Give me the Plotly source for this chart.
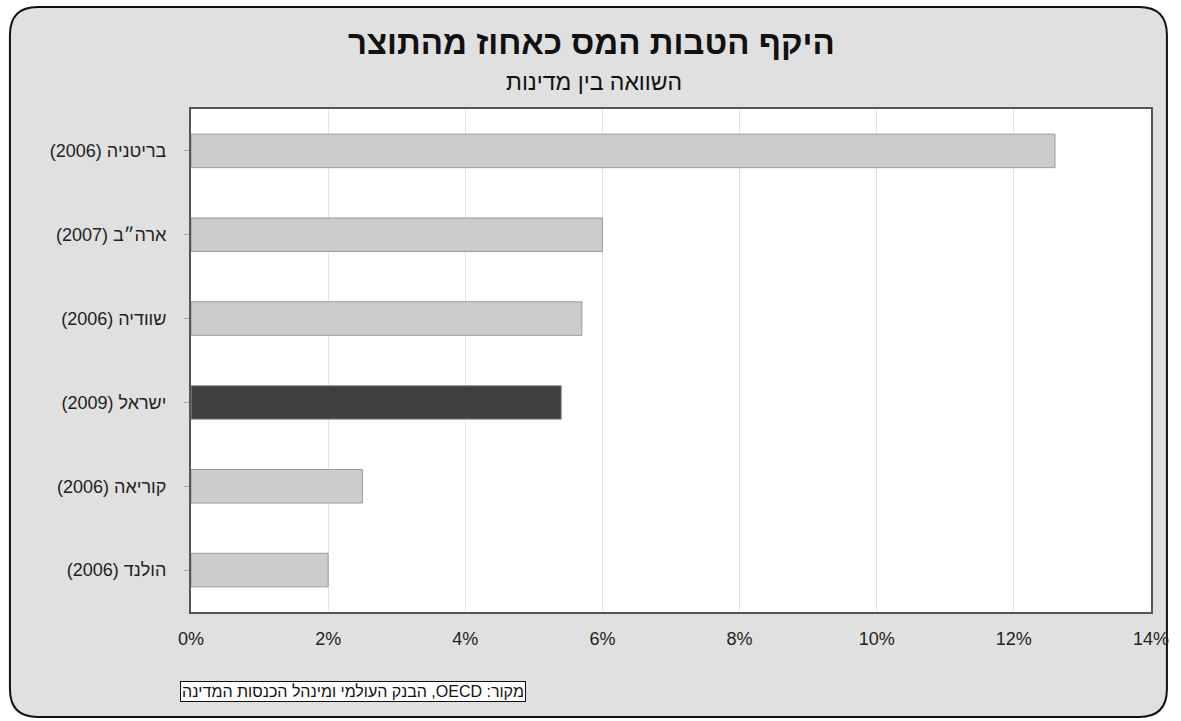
import plotly.graph_objects as go

countries = ["בריטניה (2006)", "ארה״ב (2007)", "שוודיה (2006)", "ישראל (2009)", "קוריאה (2006)", "הולנד (2006)"]
values = [12.6, 6.0, 5.7, 5.4, 2.5, 2.0]
highlight = "ישראל (2009)"
x_ticks = [0, 2, 4, 6, 8, 10, 12, 14]
x_tick_labels = ["0%", "2%", "4%", "6%", "8%", "10%", "12%", "14%"]
title_text = "היקף הטבות המס כאחוז מהתוצר"
subtitle_text = "השוואה בין מדינות"
source_text = "מקור: OECD, הבנק העולמי ומינהל הכנסות המדינה"

RLE, PDF = "\u202B", "\u202C"
def rtl(s):
    return RLE + s + PDF

W, H = 1181, 721
L, R, T, B = 191, 25, 109, 109
PW, PH = W - L - R, H - T - B

def px(x):
    return (x - L) / PW

def py(y):
    return 1 - (y - T) / PH

FONT = "Liberation Sans, Arial, DejaVu Sans, sans-serif"

colors = ["#3f3f3f" if c == highlight else "#cccccc" for c in countries]
labels = [rtl(c) for c in countries]

fig = go.Figure(go.Bar(
    x=values, y=labels, orientation="h",
    marker=dict(color=colors, line=dict(color="#9a9a9a", width=1)),
    width=0.4, hoverinfo="x+y",
))

# rounded frame
x0, x1, y0, y1, r = 9, 1172, 7, 717, 28
pts = [
    ("M", [(x0 + r, y0)]), ("L", [(x1 - r, y0)]), ("Q", [(x1, y0), (x1, y0 + r)]),
    ("L", [(x1, y1 - r)]), ("Q", [(x1, y1), (x1 - r, y1)]),
    ("L", [(x0 + r, y1)]), ("Q", [(x0, y1), (x0, y1 - r)]),
    ("L", [(x0, y0 + r)]), ("Q", [(x0, y0), (x0 + r, y0)]),
]
path = " ".join(cmd + " " + " ".join(f"{px(a):.5f},{py(b):.5f}" for a, b in p) for cmd, p in pts) + " Z"

fig.update_layout(
    width=W, height=H,
    margin=dict(l=L, r=R, t=T, b=B),
    paper_bgcolor="white", plot_bgcolor="white",
    showlegend=False,
    font=dict(family=FONT, color="#222222", size=18),
    shapes=[
        dict(type="path", path=path, xref="paper", yref="paper",
             fillcolor="#e0e0e0", line=dict(color="#111111", width=2), layer="below"),
        dict(type="rect", x0=0, x1=1, y0=0, y1=1, xref="paper", yref="paper",
             fillcolor="white", line=dict(width=0), layer="below"),
    ],
    xaxis=dict(range=[0, 14], tickvals=x_ticks, ticktext=x_tick_labels,
               showgrid=True, gridcolor="#e4e4e4", gridwidth=1,
               showline=True, linecolor="#555555", linewidth=2, mirror=True,
               zeroline=False, ticks="", tickfont=dict(size=18, color="#222222"),
               ticklabelstandoff=9, fixedrange=True),
    yaxis=dict(autorange="reversed", showline=True, linecolor="#555555", linewidth=2,
               mirror=True, ticks="outside", ticklen=5, tickcolor="#aaaaaa",
               tickfont=dict(size=18, color="#222222"), ticklabelstandoff=14,
               fixedrange=True),
    annotations=[
        dict(text="<b>" + rtl(title_text) + "</b>", x=px(594), y=py(43), xref="paper", yref="paper",
             showarrow=False, xanchor="center", yanchor="middle",
             font=dict(size=33, color="#111111", family=FONT)),
        dict(text=rtl(subtitle_text), x=px(596), y=py(82), xref="paper", yref="paper",
             showarrow=False, xanchor="center", yanchor="middle",
             font=dict(size=23, color="#111111", family=FONT)),
        dict(text=rtl(source_text), x=px(180), y=py(691), xref="paper", yref="paper",
             showarrow=False, xanchor="left", yanchor="middle",
             bgcolor="white", bordercolor="#111111", borderwidth=1, borderpad=1,
             font=dict(size=16, color="#111111", family=FONT)),
    ],
)

fig.write_html("out.html")
